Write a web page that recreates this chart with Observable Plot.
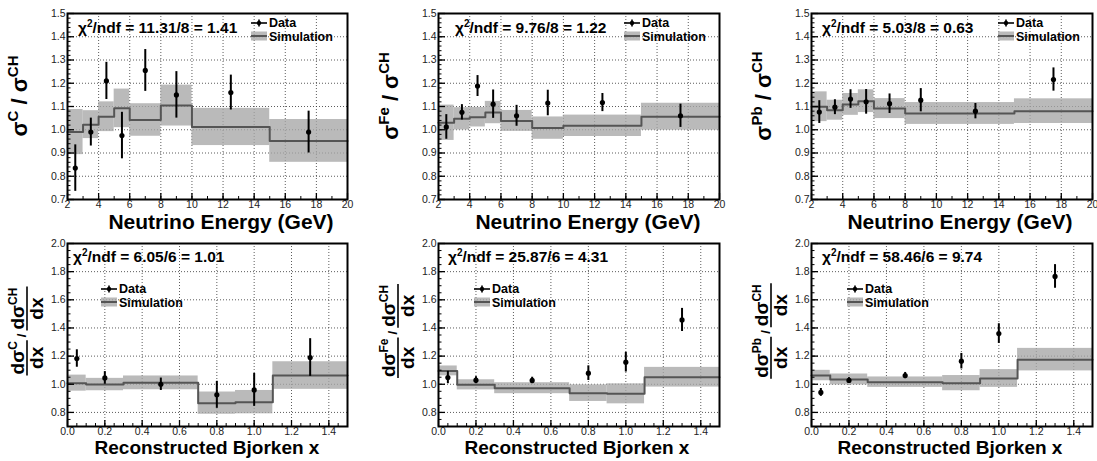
<!DOCTYPE html>
<html><head><meta charset="utf-8">
<script src="https://cdn.jsdelivr.net/npm/d3@7"></script>
<script src="https://cdn.jsdelivr.net/npm/@observablehq/plot@0.6"></script>
<style>
body{margin:0;background:#fff;}
#wrap{position:relative;width:1097px;height:461px;overflow:hidden;font-family:"Liberation Sans",Arial,sans-serif;background:#fff;}
.panel{position:absolute;}
</style></head><body><div id="wrap"></div>
<script>
// ---- bins ----
const energyBinEdges = [2, 3, 4, 5, 6, 8, 10, 15, 20];
const energyCenters = [2.5, 3.5, 4.5, 5.5, 7, 9, 12.5, 17.5];
const bjorkenBinEdges = [0, 0.1, 0.3, 0.7, 0.9, 1.1, 1.5];
const bjorkenCenters = [0.05, 0.2, 0.5, 0.8, 1.0, 1.3];

// ---- ratio vs neutrino energy ----
const dataC_E = [0.835, 0.99, 1.21, 0.975, 1.255, 1.15, 1.16, 0.99];
const errC_E = [0.10, 0.06, 0.08, 0.10, 0.09, 0.10, 0.075, 0.09];
const simC_E = [0.99, 1.022, 1.056, 1.092, 1.042, 1.104, 1.012, 0.952];
const simErrC_E = [0.097, 0.06, 0.064, 0.083, 0.07, 0.088, 0.08, 0.092];

const dataFe_E = [1.012, 1.075, 1.188, 1.11, 1.06, 1.115, 1.117, 1.06];
const errFe_E = [0.053, 0.033, 0.045, 0.061, 0.045, 0.055, 0.039, 0.05];
const simFe_E = [1.03, 1.047, 1.054, 1.074, 1.038, 1.007, 1.017, 1.056];
const simErrFe_E = [0.076, 0.048, 0.042, 0.048, 0.045, 0.048, 0.046, 0.058];

const dataPb_E = [1.076, 1.097, 1.132, 1.12, 1.112, 1.127, 1.08, 1.216];
const errPb_E = [0.049, 0.032, 0.04, 0.053, 0.042, 0.05, 0.033, 0.05];
const simPb_E = [1.099, 1.084, 1.109, 1.123, 1.091, 1.07, 1.07, 1.08];
const simErrPb_E = [0.064, 0.043, 0.047, 0.049, 0.043, 0.047, 0.047, 0.053];

// ---- ratio vs reconstructed Bjorken x ----
const dataC_x = [1.183, 1.045, 1.0, 0.925, 0.96, 1.19];
const errC_x = [0.062, 0.045, 0.044, 0.096, 0.117, 0.134];
const simC_x = [1.008, 0.998, 1.01, 0.866, 0.873, 1.062];
const simErrC_x = [0.057, 0.044, 0.049, 0.079, 0.083, 0.098];

const dataFe_x = [1.048, 1.029, 1.027, 1.079, 1.157, 1.457];
const errFe_x = [0.044, 0.025, 0.023, 0.052, 0.07, 0.082];
const simFe_x = [1.095, 0.996, 0.972, 0.937, 0.932, 1.05];
const simErrFe_x = [0.035, 0.036, 0.039, 0.059, 0.071, 0.07];

const dataPb_x = [0.942, 1.027, 1.062, 1.164, 1.36, 1.766];
const errPb_x = [0.028, 0.02, 0.022, 0.055, 0.07, 0.084];
const simPb_x = [1.062, 1.034, 1.015, 1.008, 1.041, 1.175];
const simErrPb_x = [0.037, 0.039, 0.037, 0.054, 0.063, 0.08];

// ---- text ----
const targets = ["C", "Fe", "Pb"];
const chi2Energy = ["11.31/8 = 1.41", "9.76/8 = 1.22", "5.03/8 = 0.63"];
const chi2Bjorken = ["6.05/6 = 1.01", "25.87/6 = 4.31", "58.46/6 = 9.74"];
const energyTitle = "Neutrino Energy (GeV)";
const bjorkenTitle = "Reconstructed Bjorken x";
const legendLabels = ["Data", "Simulation"];

// ---- ticks ----
const energyTicks = [2, 4, 6, 8, 10, 12, 14, 16, 18, 20];
const energyTickLabels = ["2", "4", "6", "8", "10", "12", "14", "16", "18", "20"];
const ratioTicksE = [0.7, 0.8, 0.9, 1.0, 1.1, 1.2, 1.3, 1.4, 1.5];
const ratioTickLabelsE = ["0.7", "0.8", "0.9", "1.0", "1.1", "1.2", "1.3", "1.4", "1.5"];
const bjorkenTicks = [0, 0.2, 0.4, 0.6, 0.8, 1.0, 1.2, 1.4];
const bjorkenTickLabels = ["0.0", "0.2", "0.4", "0.6", "0.8", "1.0", "1.2", "1.4"];
const ratioTicksX = [0.8, 1.0, 1.2, 1.4, 1.6, 1.8, 2.0];
const ratioTickLabelsX = ["0.8", "1.0", "1.2", "1.4", "1.6", "1.8", "2.0"];

const FONT = '"Liberation Sans", Arial, Helvetica, sans-serif';
const wrap = document.getElementById("wrap");

function makePanel(c) {
  const innerW = c.width - c.mL - c.mR, innerH = c.height - c.mT - c.mB;
  const bins = c.sim.map((v, i) => ({x1: c.edges[i], x2: c.edges[i + 1], y: v, lo: v - c.simErr[i], hi: v + c.simErr[i]}));
  const stepPts = bins.map(b => ({x: b.x1, y: b.y})).concat([{x: c.edges[c.edges.length - 1], y: c.sim[c.sim.length - 1]}]);
  const pts = c.centers.map((x, i) => ({x, y: c.data[i], lo: c.data[i] - c.err[i], hi: c.data[i] + c.err[i]}));
  const xMinor = d3.range(c.xDomain[0], c.xDomain[1] + 1e-9, c.xMinorStep);
  const yMinor = d3.range(c.yDomain[0], c.yDomain[1] + 1e-9, c.yMinorStep);
  const xIn = c.xTicks.filter(v => v > c.xDomain[0] + 1e-9 && v < c.xDomain[1] - 1e-9);
  const yIn = c.yTicks.filter(v => v > c.yDomain[0] + 1e-9 && v < c.yDomain[1] - 1e-9);

  const chart = Plot.plot({
    width: c.width, height: c.height,
    marginLeft: c.mL, marginRight: c.mR, marginTop: c.mT, marginBottom: c.mB,
    x: {domain: c.xDomain}, y: {domain: c.yDomain},
    style: {fontFamily: FONT, fontSize: "11px", color: "#222", background: "transparent", overflow: "visible"},
    marks: [
      Plot.gridX(xIn, {stroke: "#333", strokeOpacity: 0.8, strokeDasharray: "1,2", strokeWidth: 1}),
      Plot.gridY(yIn, {stroke: "#333", strokeOpacity: 0.8, strokeDasharray: "1,2", strokeWidth: 1}),
      Plot.rect(bins, {x1: "x1", x2: "x2", y1: "lo", y2: "hi", fill: "#a6a6a6", fillOpacity: 0.78}),
      Plot.line(stepPts, {x: "x", y: "y", curve: "step-after", stroke: "#555", strokeWidth: 2}),
      Plot.ruleX(pts, {x: "x", y1: "lo", y2: "hi", stroke: "#000", strokeWidth: 2}),
      Plot.dot(pts, {x: "x", y: "y", r: 2.6, fill: "#000", stroke: null}),
      Plot.tickX(xMinor, {x: d => d, insetTop: innerH - 3, stroke: "#000", strokeWidth: 1}),
      Plot.tickX(c.xTicks, {x: d => d, insetTop: innerH - 6, stroke: "#000", strokeWidth: 1.3}),
      Plot.tickY(yMinor, {y: d => d, insetRight: innerW - 3.5, stroke: "#000", strokeWidth: 1}),
      Plot.tickY(c.yTicks, {y: d => d, insetRight: innerW - 7, stroke: "#000", strokeWidth: 1.3}),
      Plot.axisX(c.xTicks, {tickSize: 0, tickPadding: 1, label: null, fontSize: 10.5, fill: "#222",
        tickFormat: d => c.xLabels[c.xTicks.indexOf(d)]}),
      Plot.axisY(c.yTicks, {tickSize: 0, tickPadding: 2, label: null, fontSize: 10.5, fill: "#222",
        tickFormat: d => c.yLabels[c.yTicks.indexOf(d)]}),
      Plot.frame({stroke: "#000", strokeWidth: 2})
    ]
  });

  const div = document.createElement("div");
  div.className = "panel";
  div.style.left = c.left + "px";
  div.style.top = c.top + "px";
  div.style.width = c.width + "px";
  div.style.height = c.height + "px";
  div.appendChild(chart);
  wrap.appendChild(div);

  const svg = d3.select(chart);
  const g = svg.append("g").attr("font-family", FONT).attr("font-weight", "bold")
    .attr("fill", "#000").attr("text-anchor", "start");

  // axis title
  g.append("text").attr("x", c.titleX).attr("y", c.titleY).attr("text-anchor", "middle")
    .attr("font-size", c.titleSize).text(c.title);

  // chi2 text
  const chi = g.append("text").attr("x", c.chiX).attr("y", c.chiY).attr("font-size", 15.5);
  chi.append("tspan").text("\u03C7");
  chi.append("tspan").attr("dy", -6).attr("font-size", 10).text("2");
  chi.append("tspan").attr("dy", 6).text("/ndf = " + c.chi);

  // legend
  const lx1 = c.legX, lx2 = c.legX + 16, lxm = (lx1 + lx2) / 2, ly = c.legY;
  g.append("line").attr("x1", lx1).attr("x2", lx2).attr("y1", ly).attr("y2", ly).attr("stroke", "#000").attr("stroke-width", 1.6);
  g.append("line").attr("x1", lxm).attr("x2", lxm).attr("y1", ly - 3.5).attr("y2", ly + 3.5).attr("stroke", "#000").attr("stroke-width", 1.6);
  g.append("circle").attr("cx", lxm).attr("cy", ly).attr("r", 2.2).attr("fill", "#000");
  g.append("text").attr("x", lx2 + 2).attr("y", ly + 3.5).attr("font-size", 12.5).text(legendLabels[0]);
  g.append("rect").attr("x", lx1).attr("y", ly + 8.5).attr("width", 16).attr("height", 9).attr("fill", "#a6a6a6").attr("fill-opacity", 0.78);
  g.append("line").attr("x1", lx1).attr("x2", lx2).attr("y1", ly + 13).attr("y2", ly + 13).attr("stroke", "#555").attr("stroke-width", 2);
  g.append("text").attr("x", lx2 + 2).attr("y", ly + 17.5).attr("font-size", 12.5).text(legendLabels[1]);

  // y axis label
  const lab = g.append("g").attr("transform", `translate(${c.mL - 40},${c.labelCY}) rotate(-90)`);
  if (c.kind === "E") {
    const t = lab.append("text").attr("text-anchor", "middle").attr("font-size", 22);
    t.append("tspan").text("\u03C3");
    t.append("tspan").attr("dy", -9).attr("font-size", 15).text(c.target);
    t.append("tspan").attr("dy", 9).text(" / \u03C3");
    t.append("tspan").attr("dy", -9).attr("font-size", 15).text("CH");
  } else {
    const fr = lab.append("g");
    function frac(sup) {
      const f = fr.append("g");
      const num = f.append("text").attr("font-size", 19).attr("y", -3);
      num.append("tspan").text("d\u03C3");
      num.append("tspan").attr("dy", -7).attr("font-size", 12).text(sup);
      const den = f.append("text").attr("font-size", 19).attr("y", 15.5).text("dx");
      const wn = num.node().getComputedTextLength();
      const wd = den.node().getComputedTextLength();
      const w = Math.max(wn, wd) + 2;
      num.attr("x", (w - wn) / 2);
      den.attr("x", (w - wd) / 2);
      f.append("line").attr("x1", 0).attr("x2", w).attr("y1", 0).attr("y2", 0).attr("stroke", "#000").attr("stroke-width", 1.6);
      return {f, w};
    }
    const a = frac(c.target);
    const s = fr.append("text").attr("font-size", 13).attr("y", -1).text("/");
    const ws = s.node().getComputedTextLength();
    const b = frac("CH");
    const gap = 3;
    const total = a.w + gap + ws + gap + b.w;
    let u = -total / 2;
    a.f.attr("transform", `translate(${u},0)`); u += a.w + gap;
    s.attr("x", u); u += ws + gap;
    b.f.attr("transform", `translate(${u},0)`);
  }
}

const cols = [
  {left: 0, width: 365, mL: 67, mR: 18},
  {left: 365, width: 365, mL: 73, mR: 11},
  {left: 730, width: 367, mL: 81, mR: 5}
];
const titleXE = [221, 223, 230];
const titleXX = [207, 212, 220];
const chiXE = [78, 90, 92];
const chiXX = [73, 83, 92];
const legXE = [251, 259, 268];
const legXX = [101, 109, 117];
const eSets = [[dataC_E, errC_E, simC_E, simErrC_E], [dataFe_E, errFe_E, simFe_E, simErrFe_E], [dataPb_E, errPb_E, simPb_E, simErrPb_E]];
const xSets = [[dataC_x, errC_x, simC_x, simErrC_x], [dataFe_x, errFe_x, simFe_x, simErrFe_x], [dataPb_x, errPb_x, simPb_x, simErrPb_x]];

cols.forEach((col, i) => {
  makePanel({
    ...col, kind: "E", top: 0, height: 230, mT: 13, mB: 31,
    xDomain: [2, 20], yDomain: [0.7, 1.5], xTicks: energyTicks, xLabels: energyTickLabels, xMinorStep: 1,
    yTicks: ratioTicksE, yLabels: ratioTickLabelsE, yMinorStep: 0.02,
    edges: energyBinEdges, centers: energyCenters,
    data: eSets[i][0], err: eSets[i][1], sim: eSets[i][2], simErr: eSets[i][3],
    title: energyTitle, titleX: titleXE[i], titleY: 229, titleSize: 21,
    chi: chi2Energy[i], chiX: chiXE[i], chiY: 33,
    legX: legXE[i], legY: 23, target: targets[i], labelCY: 96
  });
  makePanel({
    ...col, kind: "X", top: 230, height: 231, mT: 13, mB: 35,
    xDomain: [0, 1.5], yDomain: [0.7, 2.0], xTicks: bjorkenTicks, xLabels: bjorkenTickLabels, xMinorStep: 0.05,
    yTicks: ratioTicksX, yLabels: ratioTickLabelsX, yMinorStep: 0.05,
    edges: bjorkenBinEdges, centers: bjorkenCenters,
    data: xSets[i][0], err: xSets[i][1], sim: xSets[i][2], simErr: xSets[i][3],
    title: bjorkenTitle, titleX: titleXX[i], titleY: 224, titleSize: 19,
    chi: chi2Bjorken[i], chiX: chiXX[i], chiY: 32,
    legX: legXX[i], legY: 59, target: targets[i], labelCY: 101
  });
});
</script></body></html>
